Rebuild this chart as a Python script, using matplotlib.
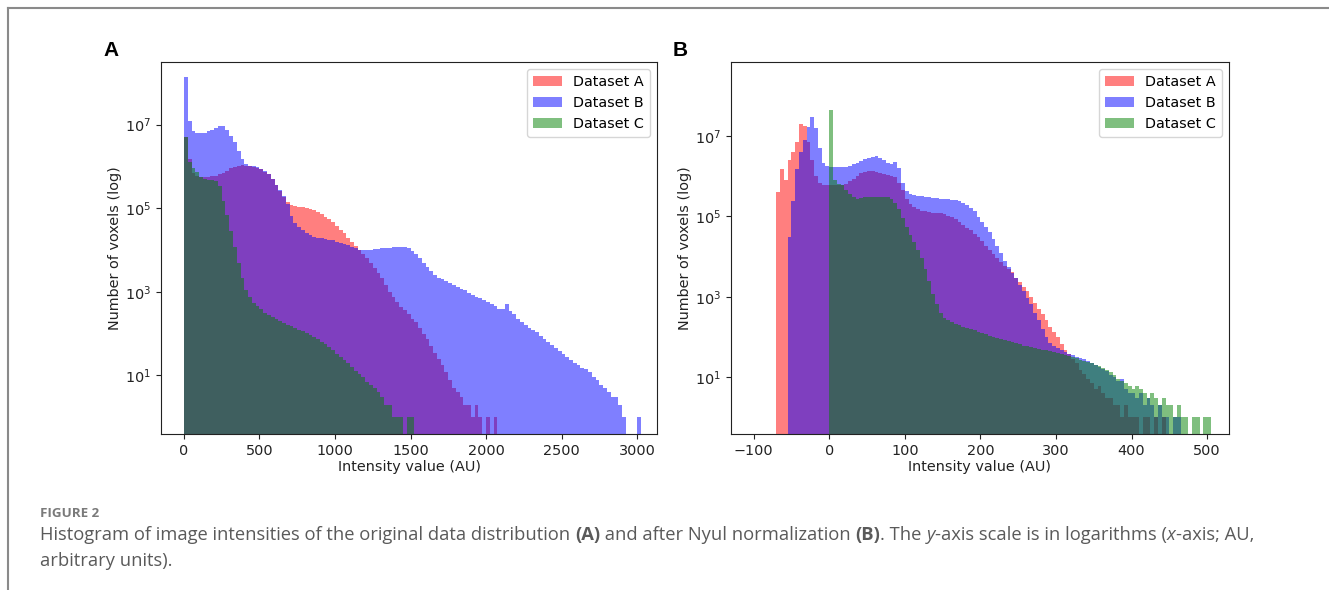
import numpy as np
import matplotlib
matplotlib.use("Agg")
import matplotlib.pyplot as plt
from matplotlib.ticker import FixedLocator, NullLocator
from matplotlib.lines import Line2D

# ---------------- data ----------------
labels = ["Dataset A", "Dataset B", "Dataset C"]
colors = ["r", "b", "g"]

# Panel A: original intensities, bins of 25 AU starting at 0
orig_bin = 25
orig_A_start = 0
orig_A = [5e6, 1.5e6, 7e5, 6e5, 5.5e5, 5.5e5, 5.5e5, 5.8e5, 6e5, 6.5e5,
          7e5, 8e5, 9e5, 9.5e5, 1.05e6, 1.1e6, 1.05e6, 1e6, 9.5e5, 9e5,
          8.5e5, 7.5e5, 6.5e5, 5e5, 3.6e5, 2.6e5, 1.9e5, 1.45e5, 1.2e5, 1.15e5,
          1.1e5, 1.05e5, 1e5, 9.5e4, 9e4, 8e4, 7.2e4, 6.3e4, 5.5e4, 4.6e4,
          3.8e4, 3.1e4, 2.5e4, 2e4, 1.6e4, 1.25e4, 1e4, 8e3, 6.3e3, 5e3,
          3.8e3, 2.9e3, 2.1e3, 1.5e3, 1e3, 750, 560, 430, 360, 290,
          230, 190, 140, 100, 75, 50, 35, 25, 18, 12,
          8, 5, 4, 3, 2, 2, 1, 2, 1, 0,
          1, 0, 1]
orig_B_start = 0
orig_B = [1.4e8, 1.2e7, 7e6, 6.3e6, 6.3e6, 6.3e6, 7e6, 7.6e6, 8.5e6, 9.2e6,
          9.1e6, 7.5e6, 5.5e6, 3.8e6, 2.4e6, 1.5e6, 1.15e6, 1.05e6, 1e6, 9.5e5,
          8.7e5, 7.6e5, 6.5e5, 5.1e5, 3.7e5, 2.7e5, 2e5, 1.3e5, 6.5e4, 4.5e4,
          3.6e4, 3e4, 2.6e4, 2.3e4, 2.1e4, 2e4, 1.9e4, 1.8e4, 1.75e4, 1.7e4,
          1.6e4, 1.5e4, 1.4e4, 1.3e4, 1.2e4, 1.1e4, 1e4, 1e4, 1e4, 1e4,
          1.05e4, 1.05e4, 1.1e4, 1.1e4, 1.15e4, 1.2e4, 1.2e4, 1.2e4, 1.2e4, 1.1e4,
          9.5e3, 8e3, 6.5e3, 5e3, 4e3, 3.2e3, 2.6e3, 2.2e3, 2e3, 1.8e3,
          1.6e3, 1.45e3, 1.3e3, 1.2e3, 1.1e3, 950, 850, 750, 700, 650,
          560, 500, 450, 400, 380, 500, 350, 300, 230, 190,
          160, 140, 120, 110, 90, 75, 65, 55, 45, 38,
          32, 27, 24, 20, 18, 15, 14, 12, 9, 8,
          6, 5, 4, 3, 3, 2, 1, 0, 0, 0,
          1]
orig_C_start = 0
orig_C = [5e6, 1.3e6, 9e5, 7.5e5, 5.5e5, 5e5, 4.8e5, 4.8e5, 4.6e5, 3.5e5,
          1.5e5, 7e4, 2.8e4, 1.2e4, 5e3, 2.2e3, 1.1e3, 750, 550, 450,
          380, 320, 280, 250, 220, 200, 180, 160, 150, 140,
          125, 115, 105, 95, 85, 75, 65, 58, 48, 40,
          33, 28, 23, 20, 16, 13, 11, 9, 7, 6,
          5, 4, 3, 2, 2, 1, 1, 1, 0, 1,
          1]

# Panel B: after Nyul normalization, bins of 5 AU
nyul_bin = 5
nyul_A_start = -70
nyul_A = [4e5, 1.5e6, 8e5, 2.5e6, 4e6, 7e6, 2e7, 1.8e7, 7e6, 2.5e6,
          1e6, 7e5, 6e5, 6e5, 6.2e5, 6e5, 6e5, 6e5, 6.5e5, 7.5e5,
          8.5e5, 1e6, 1.2e6, 1.3e6, 1.35e6, 1.35e6, 1.25e6, 1.2e6, 1.15e6, 1.1e6,
          1e6, 9.5e5, 7e5, 4.5e5, 2.8e5, 2e5, 1.7e5, 1.55e5, 1.4e5, 1.35e5,
          1.3e5, 1.25e5, 1.2e5, 1.2e5, 1.15e5, 1.05e5, 9.5e4, 8.5e4, 7.5e4, 6.3e4,
          5.3e4, 4.5e4, 3.7e4, 3e4, 2.4e4, 1.8e4, 1.45e4, 1.15e4, 9e3, 7.5e3,
          6e3, 5e3, 4.2e3, 3e3, 2.3e3, 1.8e3, 1.4e3, 1e3, 680, 500,
          380, 260, 180, 130, 100, 65, 47, 38, 28, 22,
          15, 12, 9, 7, 5, 6, 4, 3, 3, 2,
          2, 1, 2, 1, 1, 1, 0, 1, 1, 0,
          1, 0, 1]
nyul_B_start = -55
nyul_B = [3e4, 2.5e5, 1.5e6, 4e6, 8e6, 1.7e7, 3e7, 1.6e7, 5e6, 2.2e6,
          1.8e6, 1.75e6, 1.75e6, 1.75e6, 1.7e6, 1.75e6, 1.8e6, 2e6, 2.1e6, 2.4e6,
          2.7e6, 2.9e6, 3.1e6, 3.2e6, 2.9e6, 2.5e6, 2.1e6, 2e6, 2.3e6, 1.6e6,
          7e5, 4.2e5, 3.6e5, 3.4e5, 3.3e5, 3.2e5, 3.1e5, 3e5, 2.9e5, 2.85e5,
          2.8e5, 2.8e5, 2.7e5, 2.6e5, 2.6e5, 2.5e5, 2.2e5, 1.9e5, 1.6e5, 1.35e5,
          9.5e4, 7.5e4, 5.5e4, 4e4, 2.8e4, 1.8e4, 1.2e4, 8e3, 5.6e3, 4e3,
          3e3, 2e3, 1.4e3, 950, 650, 400, 260, 160, 100, 70,
          60, 52, 48, 42, 38, 35, 32, 30, 28, 25,
          22, 20, 18, 16, 14, 11, 10, 8, 9, 5,
          4, 4, 3, 4, 2, 3, 2, 1, 2, 1,
          1, 0, 1, 1]
nyul_C_start = 0
nyul_C = [4.5e7, 8e5, 6.5e5, 6e5, 4.5e5, 3.7e5, 3e5, 2.8e5, 2.9e5, 3e5,
          3.1e5, 3.1e5, 3.1e5, 3.1e5, 3.1e5, 3e5, 2.8e5, 2.2e5, 1.5e5, 9e4,
          5.5e4, 3.5e4, 2.3e4, 1.5e4, 9e3, 5e3, 2.5e3, 1.2e3, 650, 400,
          300, 260, 230, 210, 195, 180, 165, 155, 145, 135,
          125, 115, 105, 100, 95, 88, 82, 78, 74, 70,
          65, 61, 58, 55, 52, 50, 48, 46, 44, 42,
          40, 37, 35, 33, 31, 29, 27, 25, 24, 22,
          20, 19, 17, 15, 13, 11, 9, 8, 7, 6,
          5, 6, 5, 4, 3, 4, 3, 2, 3, 2,
          2, 1, 2, 1, 1, 0, 1, 1, 0, 1,
          1]

x_label = "Intensity value (AU)"
y_label = "Number of voxels (log)"
y_ticks = [1e1, 1e3, 1e5, 1e7]
xticks_A = [0, 500, 1000, 1500, 2000, 2500, 3000]
xticks_B = [-100, 0, 100, 200, 300, 400, 500]

caption_head = "FIGURE 2"
caption_line1 = [("Histogram of image intensities of the original data distribution ", "normal", "normal"),
                 ("(A)", "bold", "normal"),
                 (" and after Nyul normalization ", "normal", "normal"),
                 ("(B)", "bold", "normal"),
                 (". The ", "normal", "normal"),
                 ("y", "normal", "italic"),
                 ("-axis scale is in logarithms (", "normal", "normal"),
                 ("x", "normal", "italic"),
                 ("-axis; AU,", "normal", "normal")]
caption_line2 = "arbitrary units)."

# ---------------- figure ----------------
W, H = 1329, 590
fig = plt.figure(figsize=(W / 100, H / 100), dpi=100)
FS = 10.4


def px_rect(l, t, r, b):
    return [l / W, 1 - b / H, (r - l) / W, (b - t) / H]


def hist_series(ax, start, width, counts, color, label):
    counts = np.asarray(counts, dtype=float)
    edges = start + width * np.arange(len(counts) + 1)
    ax.hist(edges[:-1], bins=edges, weights=counts, histtype="stepfilled",
            color=color, alpha=0.5, label=label, log=True, linewidth=0)


def style_axes(ax, xlim, ylim, xticks):
    ax.set_yscale("log")
    ax.set_xlim(*xlim)
    ax.set_ylim(*ylim)
    ax.yaxis.set_major_locator(FixedLocator(y_ticks))
    ax.yaxis.set_minor_locator(NullLocator())
    ax.set_xticks(xticks)
    ax.tick_params(labelsize=FS, colors="#222222", length=3.5)
    ax.set_xlabel(x_label, fontsize=FS, color="#222222", labelpad=2)
    ax.set_ylabel(y_label, fontsize=FS, color="#222222", labelpad=2)
    for sp in ax.spines.values():
        sp.set_color("#222222")
    ax.legend(loc="upper right", fontsize=FS)


axA = fig.add_axes(px_rect(161, 62, 657, 434))
for s, c, col, lab in [(orig_A_start, orig_A, colors[0], labels[0]),
                       (orig_B_start, orig_B, colors[1], labels[1]),
                       (orig_C_start, orig_C, colors[2], labels[2])]:
    hist_series(axA, s, orig_bin, c, col, lab)
style_axes(axA, (-152, 3132), (10 ** -0.4, 10 ** 8.5), xticks_A)

axB = fig.add_axes(px_rect(731, 62, 1229, 434))
for s, c, col, lab in [(nyul_A_start, nyul_A, colors[0], labels[0]),
                       (nyul_B_start, nyul_B, colors[1], labels[1]),
                       (nyul_C_start, nyul_C, colors[2], labels[2])]:
    hist_series(axB, s, nyul_bin, c, col, lab)
style_axes(axB, (-130, 529), (10 ** -0.42, 10 ** 8.85), xticks_B)

# panel letters
fig.text(111 / W, 1 - 50 / H, "A", fontsize=15, fontweight="bold",
         family="Liberation Sans", ha="center", va="center")
fig.text(680 / W, 1 - 50 / H, "B", fontsize=15, fontweight="bold",
         family="Liberation Sans", ha="center", va="center")

# frame lines
fig.add_artist(Line2D([8 / W, 1], [1 - 8 / H, 1 - 8 / H], transform=fig.transFigure,
                      color="#8a8a8a", lw=1.5))
fig.add_artist(Line2D([8 / W, 8 / W], [1 - 8 / H, 0], transform=fig.transFigure,
                      color="#8a8a8a", lw=1.5))

# caption
CAP_FONT = ["Open Sans", "DejaVu Sans"]
CAP_COLOR = "#5a5a5a"
CAP_FS = 13.25
fig.text(40 / W, 1 - 517 / H, caption_head, fontsize=9.6, fontweight="bold",
         family=CAP_FONT, color="#7a7a7a", ha="left", va="baseline")

renderer = fig.canvas.get_renderer()


def seg_width(s, weight, style):
    t1 = fig.text(0, 0, s + "|", fontsize=CAP_FS, fontweight=weight,
                  fontstyle=style, family=CAP_FONT)
    t2 = fig.text(0, 0, "|", fontsize=CAP_FS, fontweight=weight,
                  fontstyle=style, family=CAP_FONT)
    w = t1.get_window_extent(renderer).width - t2.get_window_extent(renderer).width
    t1.remove()
    t2.remove()
    return w


x = 40.0
for s, weight, style in caption_line1:
    fig.text(x / W, 1 - 540 / H, s, fontsize=CAP_FS, fontweight=weight,
             fontstyle=style, family=CAP_FONT, color=CAP_COLOR,
             ha="left", va="baseline")
    x += seg_width(s, weight, style)
fig.text(40 / W, 1 - 566 / H, caption_line2, fontsize=CAP_FS,
         family=CAP_FONT, color=CAP_COLOR, ha="left", va="baseline")

fig.savefig("out.png", dpi=100)
